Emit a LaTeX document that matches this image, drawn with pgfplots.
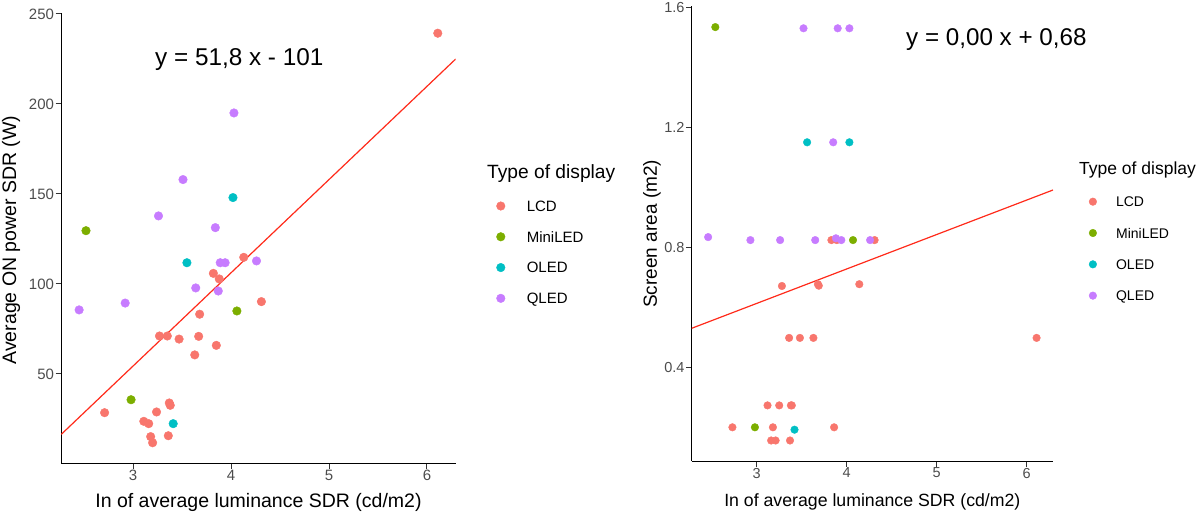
\documentclass[border=0pt]{standalone}
\usepackage{fontspec}
\setmainfont{Liberation Sans}
\usepackage{pgfplots}
\pgfplotsset{compat=1.18}
\definecolor{lcd}{HTML}{F8766D}
\definecolor{mini}{HTML}{7CAE00}
\definecolor{oled}{HTML}{00BFC4}
\definecolor{qled}{HTML}{C77CFF}
\definecolor{fitred}{HTML}{FF2A1A}
\pgfplotsset{
  base/.style={
    scale only axis,
    axis x line*=bottom, axis y line*=left,
    axis line style={-, black, line width=1pt},
    tick align=outside,
    major tick length=5.5pt,
    tick style={black!80, line width=1pt},
    /pgf/number format/assume math mode=true,
    xtick={3,4,5,6},
    tick label style={text=black!70},
    xticklabel style={inner sep=1pt},
    yticklabel style={inner sep=1.5pt},
    legend cell align=left,
    legend image code/.code={\draw[##1] plot coordinates {(0pt,0pt)};},
  },
}
\begin{document}
\begin{tikzpicture}
\useasboundingbox (0pt,0pt) rectangle (1200pt,513pt);
% ---------------- left panel ----------------
\begin{axis}[base,
  at={(61.2pt,49.9pt)}, anchor=south west,
  width=394.5pt, height=450.4pt,
  xmin=2.267, xmax=6.293, ymin=0.5, ymax=250.7,
  ytick={50,100,150,200,250},
  tick label style={font=\fontsize{15}{18}\selectfont},
  xlabel={In of average luminance SDR (cd/m2)},
  ylabel={Average ON power SDR (W)},
  label style={font=\fontsize{19.5}{23}\selectfont},
  xlabel style={at={(axis description cs:0.5,-0.0864)}, anchor=center},
  ylabel style={at={(axis description cs:-0.1270,0.4953)}, anchor=center},
  legend style={draw=none, fill=none, inner sep=0pt, outer sep=0pt,
    at={(1.1034,0.5827)}, anchor=north west,
    row sep=20.03pt, column sep=21.7pt,
    font=\fontsize{15}{18}\selectfont,
    nodes={inner sep=0pt, text height=10.74pt, text depth=0pt}},
]
\addplot[only marks, mark=*, mark size=4.3pt, color=lcd, mark options={draw=none, fill=lcd}] coordinates {
(6.11,239.3) (4.13,114.8) (3.82,105.9) (3.88,102.8) (4.31,90.2) (3.68,83.2)
(3.27,71.1) (3.35,71.1) (3.47,69.4) (3.67,70.9) (3.85,65.9) (3.63,60.6)
(2.71,28.5) (3.24,28.9) (3.37,33.9) (3.38,32.6) (3.11,23.7) (3.16,22.4)
(3.18,15.2) (3.20,11.8) (3.36,15.7)};
\addlegendentry{LCD}
\addplot[only marks, mark=*, mark size=4.3pt, color=mini, mark options={draw=none, fill=mini}] coordinates {
(2.52,129.6) (4.06,85.0) (2.98,35.7)};
\addlegendentry{MiniLED}
\addplot[only marks, mark=*, mark size=4.3pt, color=oled, mark options={draw=none, fill=oled}] coordinates {
(4.02,148.0) (3.55,111.8) (3.41,22.4)};
\addlegendentry{OLED}
\addplot[only marks, mark=*, mark size=4.3pt, color=qled, mark options={draw=none, fill=qled}] coordinates {
(4.03,195.0) (3.51,158.0) (3.26,137.8) (3.84,131.3) (3.89,111.8) (3.94,111.8)
(4.26,112.8) (3.64,97.8) (3.87,96.1) (2.45,85.6) (2.92,89.4)};
\addlegendentry{QLED}
\addplot[fitred, line width=1.2pt, forget plot] coordinates {(2.267,16.43) (6.293,224.98)};
\end{axis}
% ---------------- right panel ----------------
\begin{axis}[base,
  at={(691.7pt,51.8pt)}, anchor=south west,
  width=361.3pt, height=454.8pt,
  xmin=2.2775, xmax=6.2925, ymin=0.087, ymax=1.603,
  ytick={0.4,0.8,1.2,1.6}, yticklabels={0.4,0.8,1.2,1.6},
  tick label style={font=\fontsize{14.5}{17}\selectfont},
  xlabel={In of average luminance SDR (cd/m2)},
  ylabel={Screen area (m2)},
  xlabel style={font=\fontsize{17.7}{21}\selectfont, at={(axis description cs:0.5,-0.0897)}, anchor=center},
  ylabel style={font=\fontsize{19}{22}\selectfont, at={(axis description cs:-0.1102,0.5)}, anchor=center},
  legend style={draw=none, fill=none, inner sep=0pt, outer sep=0pt,
    at={(1.0999,0.5816)}, anchor=north west,
    row sep=21.3pt, column sep=19.4pt,
    font=\fontsize{14}{17}\selectfont,
    nodes={inner sep=0pt, text height=10.02pt, text depth=0pt}},
]
\addplot[only marks, mark=*, mark size=3.8pt, color=lcd, mark options={draw=none, fill=lcd}] coordinates {
(3.83,0.824) (3.89,0.824) (4.31,0.824) (3.28,0.671) (3.68,0.677) (3.69,0.672)
(4.14,0.677) (3.36,0.498) (3.48,0.498) (3.63,0.498) (6.11,0.498) (3.12,0.273)
(3.25,0.273) (3.38,0.273) (3.39,0.273) (2.73,0.200) (3.18,0.200) (3.86,0.200)
(3.16,0.156) (3.21,0.156) (3.37,0.156)};
\addlegendentry{LCD}
\addplot[only marks, mark=*, mark size=3.8pt, color=mini, mark options={draw=none, fill=mini}] coordinates {
(2.54,1.534) (4.07,0.824) (2.98,0.200)};
\addlegendentry{MiniLED}
\addplot[only marks, mark=*, mark size=3.8pt, color=oled, mark options={draw=none, fill=oled}] coordinates {
(3.56,1.150) (4.03,1.150) (3.42,0.192)};
\addlegendentry{OLED}
\addplot[only marks, mark=*, mark size=3.8pt, color=qled, mark options={draw=none, fill=qled}] coordinates {
(3.52,1.530) (3.90,1.530) (4.03,1.530) (3.85,1.150) (2.46,0.834) (2.93,0.824)
(3.26,0.824) (3.65,0.824) (3.88,0.830) (3.94,0.824) (4.26,0.824)};
\addlegendentry{QLED}
\addplot[fitred, line width=1.2pt, forget plot] coordinates {(2.2775,0.530) (6.2925,0.991)};
\end{axis}
% ---------------- annotations ----------------
\node[anchor=base west, inner sep=0pt, font=\fontsize{24.3}{28}\selectfont] at (155pt,447.3pt) {y = 51,8 x - 101};
\node[anchor=base west, inner sep=0pt, font=\fontsize{24.2}{28}\selectfont] at (906pt,467.3pt) {y = 0,00 x + 0,68};
\node[anchor=base west, inner sep=0pt, font=\fontsize{19.2}{23}\selectfont] at (487pt,334.4pt) {Type of display};
\node[anchor=base west, inner sep=0pt, font=\fontsize{17.5}{21}\selectfont] at (1079pt,338.4pt) {Type of display};
\end{tikzpicture}
\end{document}
